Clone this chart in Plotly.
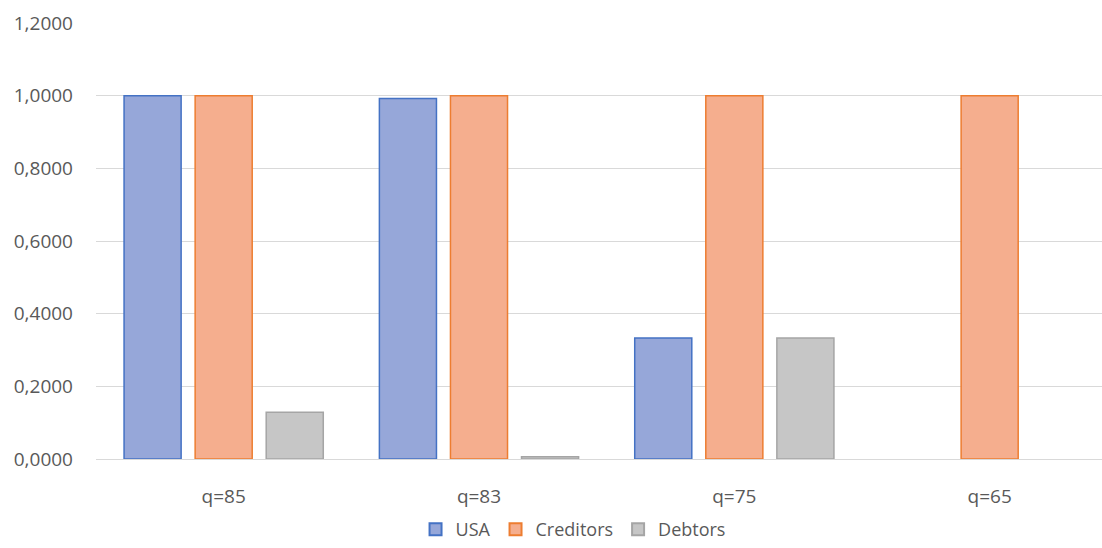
import plotly.graph_objects as go

categories = ["q=85", "q=83", "q=75", "q=65"]
usa = [1.0, 0.992, 0.333, 0.0]
creditors = [1.0, 1.0, 1.0, 1.0]
debtors = [0.129, 0.006, 0.333, 0.0]
y_ticks = [0, 0.2, 0.4, 0.6, 0.8, 1.0, 1.2]

FONT = "Open Sans"
TXT = "#595959"


def edge_widths(vals):
    # no outline for empty (zero) bars, as in the reference
    return [1.5 if v > 0 else 0 for v in vals]


fig = go.Figure()
fig.add_trace(go.Bar(name="USA", x=categories, y=usa,
                     marker=dict(color="#96A7D9",
                                 line=dict(color="#4472C4", width=edge_widths(usa)))))
fig.add_trace(go.Bar(name="Creditors", x=categories, y=creditors,
                     marker=dict(color="#F5AE8E",
                                 line=dict(color="#ED7D31", width=edge_widths(creditors)))))
fig.add_trace(go.Bar(name="Debtors", x=categories, y=debtors,
                     marker=dict(color="#C6C6C6",
                                 line=dict(color="#A5A5A5", width=edge_widths(debtors)))))

fig.update_layout(
    width=1102, height=548,
    margin=dict(l=96, r=0, t=23, b=89),
    paper_bgcolor="white", plot_bgcolor="white",
    barmode="group", bargap=0.165, bargroupgap=0.197,
    separators=",.",
    font=dict(family=FONT, color=TXT, size=19),
    showlegend=True,
    legend=dict(orientation="h", xref="container", yref="container",
                x=0.52, xanchor="center", y=0.0, yanchor="bottom",
                font=dict(size=18, color=TXT), itemsizing="constant",
                traceorder="normal"),
    xaxis=dict(range=[-0.5, 3.44], showgrid=False, showline=True,
               linecolor="#D9D9D9", linewidth=1, ticks="",
               ticklabelstandoff=20, tickfont=dict(size=19, color=TXT),
               fixedrange=True),
    yaxis=dict(range=[0, 1.2], tickvals=y_ticks, tickformat=".4f",
               showgrid=True, gridcolor="#D9D9D9", gridwidth=1,
               zeroline=True, zerolinecolor="#D9D9D9", zerolinewidth=1,
               showline=False, ticks="", ticklabelstandoff=22,
               tickfont=dict(size=19, color=TXT), fixedrange=True),
)

fig.write_html("out.html")
